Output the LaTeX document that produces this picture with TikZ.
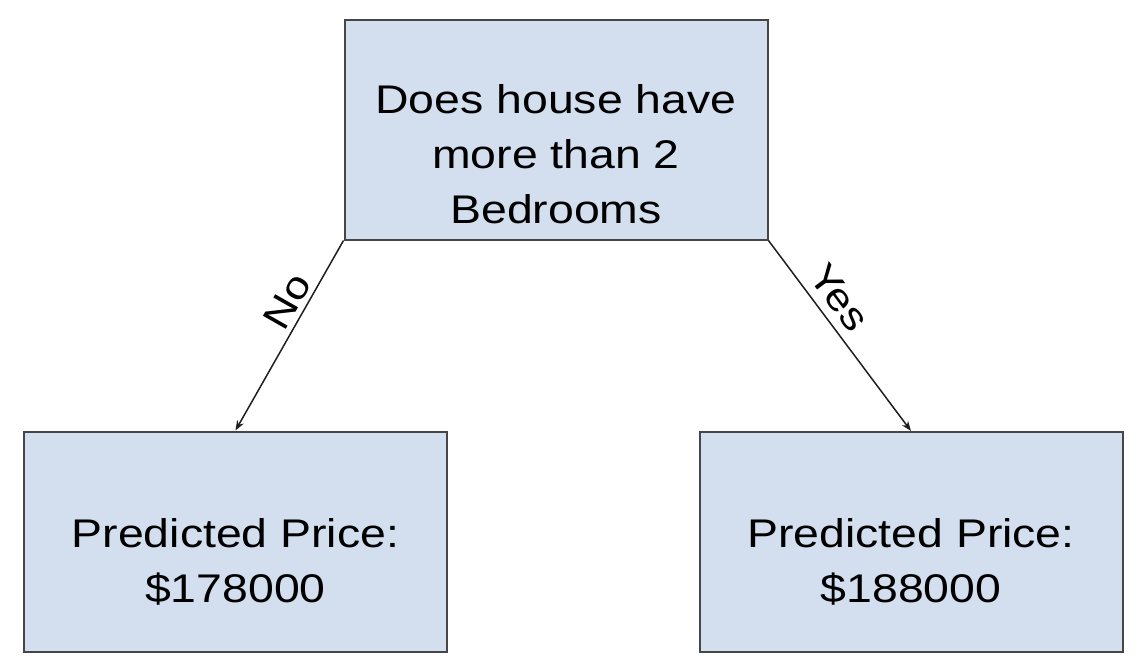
\documentclass[tikz,border=0pt]{standalone}
\usepackage{fontspec}
\setmainfont{Liberation Sans}
\newfontfamily\widefont[FakeStretch=1.16]{Liberation Sans}
\usetikzlibrary{arrows.meta}
\definecolor{boxfill}{RGB}{211,223,238}
\definecolor{boxline}{RGB}{70,70,70}
\definecolor{edgeline}{RGB}{30,30,30}

\begin{document}
\begin{tikzpicture}[x=0.6pt,y=-0.6pt,
    box/.style={draw=boxline,fill=boxfill,line width=1.2pt,inner sep=0pt,
                minimum width=253.8pt,minimum height=132pt},
    txt/.style={align=center,inner sep=0pt,font=\widefont\fontsize{24}{33}\selectfont},
    edge/.style={draw=edgeline,line width=0.9pt,-{Stealth[length=6pt,width=4.5pt]}},
    lbl/.style={font=\widefont\fontsize{23}{25}\selectfont,sloped,above,inner sep=3pt}]
  \useasboundingbox (0,0) rectangle (1142,668);
  % boxes
  \node[box] (root)  at (556,129.5) {};
  \node[box] (leftP) at (235.5,541.5) {};
  \node[box] (rightP) at (911,542) {};
  % texts
  \node[txt] (rootQ)  at (556,154) {Does house have\\more than 2\\Bedrooms};
  \node[txt] (leftT)  at (235.5,562) {Predicted Price:\\\$178000};
  \node[txt] (rightT) at (911,562) {Predicted Price:\\\$188000};
  % branches
  \draw[edge] (root.south west) -- node[lbl,pos=0.37] {No} (leftP.north);
  \draw[edge] (root.south east) -- node[lbl,pos=0.37,inner sep=5pt] {Yes} (rightP.north);
\end{tikzpicture}
\end{document}
